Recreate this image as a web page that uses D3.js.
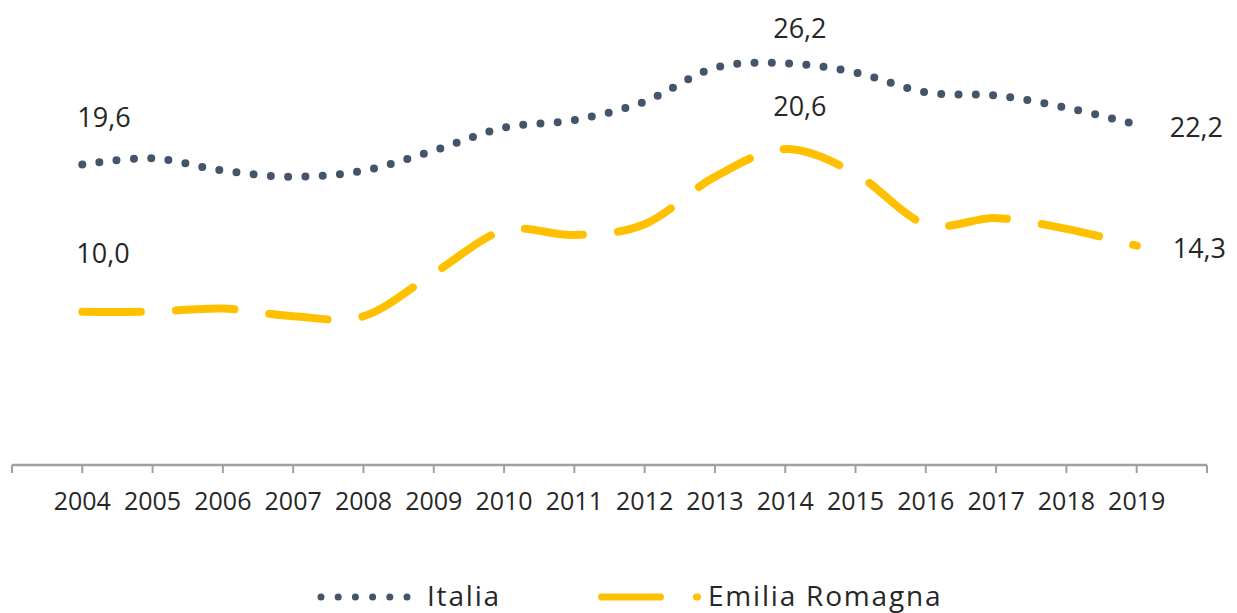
<!DOCTYPE html>
<html>
<head>
<meta charset="utf-8">
<script src="https://cdn.jsdelivr.net/npm/d3@7"></script>
<style>
  html, body { margin: 0; padding: 0; background: #fff; }
  svg { display: block; }
  text { font-family: "Open Sans", "Noto Sans", sans-serif; fill: #262626; }
</style>
</head>
<body>
<svg id="chart" width="1237" height="613"></svg>
<script>
const years = ["2004","2005","2006","2007","2008","2009","2010","2011","2012","2013","2014","2015","2016","2017","2018","2019"];
const italia = [19.6, 20.0, 19.2, 18.8, 19.2, 20.5, 22.0, 22.5, 23.7, 25.9, 26.2, 25.6, 24.3, 24.1, 23.3, 22.2];
const emilia = [10.0, 10.0, 10.2, 9.7, 9.7, 12.5, 15.3, 15.0, 15.7, 18.8, 20.6, 19.0, 15.7, 16.1, 15.4, 14.3];
const seriesNames = ["Italia", "Emilia Romagna"];

// which points carry a label, with label placement offsets
const italiaLabels = [
  {i: 0, dx: -5, dy: -37},
  {i: 10, dx: -12, dy: -25},
  {i: 15, dx: 33, dy: 12}
];
const emiliaLabels = [
  {i: 0, dx: -6, dy: -49},
  {i: 10, dx: -12, dy: -33},
  {i: 15, dx: 36, dy: 12}
];

const svg = d3.select("#chart");
const x = d3.scalePoint().domain(years).range([12, 1207]).padding(1);
const y = d3.scaleLinear().domain([0, 30]).range([465, 5]);
const fmt = v => d3.format(".1f")(v).replace(".", ",");

// axis
const axisG = svg.append("g");
axisG.append("line")
  .attr("x1", x.range()[0]).attr("x2", x.range()[1])
  .attr("y1", y(0)).attr("y2", y(0))
  .attr("stroke", "#A0A0A0").attr("stroke-width", 2.5);
const tickPos = d3.range(-1, years.length + 1).map(i => x.range()[0] + x.step() * (i + 1));
axisG.selectAll("line.tick").data(tickPos).join("line")
  .attr("class", "tick")
  .attr("x1", d => d).attr("x2", d => d)
  .attr("y1", y(0)).attr("y2", y(0) + 8)
  .attr("stroke", "#A0A0A0").attr("stroke-width", 2);
axisG.selectAll("text.yl").data(years).join("text")
  .attr("class", "yl")
  .attr("x", d => x(d)).attr("y", 510)
  .attr("text-anchor", "middle")
  .attr("font-size", 25)
  .text(d => d);

const line = d3.line()
  .x((d, i) => x(years[i]))
  .y(d => y(d))
  .curve(d3.curveCardinal.tension(0));

// Emilia Romagna - dashed yellow
svg.append("path")
  .datum(emilia)
  .attr("d", line)
  .attr("fill", "none")
  .attr("stroke", "#FFC000")
  .attr("stroke-width", 8)
  .attr("stroke-linecap", "round")
  .attr("stroke-dasharray", "58.5 35.2");

// Italia - round dotted
svg.append("path")
  .datum(italia)
  .attr("d", line)
  .attr("fill", "none")
  .attr("stroke", "#44546A")
  .attr("stroke-width", 8)
  .attr("stroke-linecap", "round")
  .attr("stroke-dasharray", "0 17.3");

// data labels
function addLabels(series, labels) {
  svg.append("g").selectAll("text").data(labels).join("text")
    .attr("x", d => x(years[d.i]) + d.dx)
    .attr("y", d => y(series[d.i]) + d.dy)
    .attr("font-size", 27)
    .text(d => fmt(series[d.i]));
}
addLabels(italia, italiaLabels);
addLabels(emilia, emiliaLabels);

// legend
const lg = svg.append("g");
lg.append("path")
  .attr("d", "M321,597H407.5")
  .attr("fill", "none").attr("stroke", "#44546A").attr("stroke-width", 7)
  .attr("stroke-linecap", "round").attr("stroke-dasharray", "0 17.2");
lg.append("text").attr("x", 427).attr("y", 606).attr("font-size", 28)
  .attr("letter-spacing", 1.8).text(seriesNames[0]);
lg.append("path")
  .attr("d", "M601.5,597H697.5")
  .attr("fill", "none").attr("stroke", "#FFC000").attr("stroke-width", 7)
  .attr("stroke-linecap", "round").attr("stroke-dasharray", "59 36");
lg.append("text").attr("x", 708).attr("y", 606).attr("font-size", 28)
  .attr("letter-spacing", 1.8).text(seriesNames[1]);
</script>
</body>
</html>
